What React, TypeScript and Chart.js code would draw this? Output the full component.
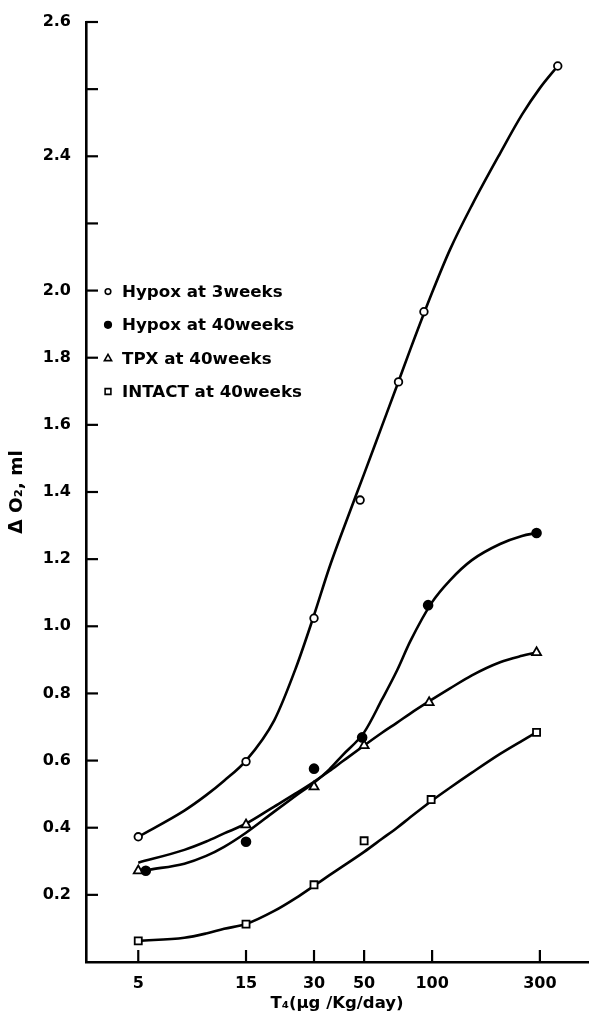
import React, { useEffect, useRef } from 'react';
import { Chart, registerables } from 'chart.js';

Chart.register(...registerables);

// ---- axis ticks ----
const X_TICKS = [5, 15, 30, 50, 100, 300];
const X_TICK_LABELS = ['5', '15', '30', '50', '100', '300'];
const Y_TICKS = [0.2, 0.4, 0.6, 0.8, 1.0, 1.2, 1.4, 1.6, 1.8, 2.0, 2.2, 2.4, 2.6, 2.8];
const Y_TICK_LABELS = ['0.2', '0.4', '0.6', '0.8', '1.0', '1.2', '1.4', '1.6', '1.8', '2.0', '', '2.4', '', '2.6'];

const X_TITLE = 'T₄(μg /Kg/day)';
const Y_TITLE = 'Δ O₂, ml';

const SERIES_LABELS = ['Hypox at 3weeks', 'Hypox at 40weeks', 'TPX at 40weeks', 'INTACT at 40weeks'];

// ---- measured points ----
const HYPOX3_X = [5, 15, 30, 48, 71, 92, 360];
const HYPOX3_Y = [0.373, 0.597, 1.024, 1.376, 1.728, 1.937, 2.669];

const HYPOX40_X = [5.4, 15, 30, 49, 96, 290];
const HYPOX40_Y = [0.272, 0.358, 0.576, 0.669, 1.063, 1.278];

const TPX40_X = [5, 15, 30, 50, 97, 290];
const TPX40_Y = [0.272, 0.409, 0.522, 0.645, 0.773, 0.922];

const INTACT40_X = [5, 15, 30, 50, 99, 290];
const INTACT40_Y = [0.063, 0.113, 0.230, 0.361, 0.484, 0.684];

// ---- hand-fitted curves ----
const HYPOX3_FIT_X = [5, 8, 10, 12, 15, 20, 25, 30, 35, 40, 50, 60, 70, 80, 100, 120, 150, 200, 250, 300, 360];
const HYPOX3_FIT_Y = [0.373, 0.451, 0.497, 0.540, 0.600, 0.720, 0.878, 1.033, 1.173, 1.281, 1.454, 1.597, 1.718, 1.824, 1.994, 2.122, 2.254, 2.409, 2.524, 2.603, 2.669];

const HYPOX40_FIT_X = [5.6, 8, 10, 12, 15, 20, 25, 30, 35, 40, 50, 60, 70, 80, 100, 120, 150, 200, 250, 290];
const HYPOX40_FIT_Y = [0.275, 0.293, 0.316, 0.343, 0.385, 0.448, 0.496, 0.534, 0.573, 0.615, 0.684, 0.782, 0.869, 0.955, 1.072, 1.137, 1.197, 1.245, 1.269, 1.278];

const TPX40_FIT_X = [5, 8, 10, 12, 15, 20, 25, 30, 35, 40, 50, 60, 70, 80, 100, 120, 150, 200, 250, 290];
const TPX40_FIT_Y = [0.296, 0.334, 0.359, 0.383, 0.412, 0.463, 0.503, 0.537, 0.568, 0.597, 0.645, 0.683, 0.713, 0.740, 0.782, 0.815, 0.854, 0.893, 0.912, 0.922];

const INTACT40_FIT_X = [5, 8, 10, 12, 15, 20, 25, 30, 35, 40, 50, 60, 70, 80, 100, 120, 150, 200, 250, 290];
const INTACT40_FIT_Y = [0.063, 0.072, 0.085, 0.099, 0.113, 0.152, 0.191, 0.227, 0.258, 0.284, 0.328, 0.367, 0.400, 0.431, 0.481, 0.519, 0.564, 0.620, 0.659, 0.684];

const FONT = '"DejaVu Sans", "Liberation Sans", sans-serif';

const MARKERS = [
  { style: 'circle', radius: 3.8, fill: '#ffffff', legendRadius: 2.8 },
  { style: 'circle', radius: 4.4, fill: '#000000', legendRadius: 3.3 },
  { style: 'triangle', radius: 5.2, fill: '#ffffff', legendRadius: 3.8 },
  { style: 'rect', radius: 5.0, fill: '#ffffff', legendRadius: 3.4 },
];

const zip = (xs: number[], ys: number[]) => xs.map((x, i) => ({ x, y: ys[i] }));

function drawMarker(ctx: CanvasRenderingContext2D, style: string, x: number, y: number, r: number) {
  ctx.beginPath();
  if (style === 'circle') {
    ctx.arc(x, y, r, 0, Math.PI * 2);
  } else if (style === 'triangle') {
    ctx.moveTo(x, y - r);
    ctx.lineTo(x + r * 0.95, y + r * 0.65);
    ctx.lineTo(x - r * 0.95, y + r * 0.65);
    ctx.closePath();
  } else {
    ctx.rect(x - r * 0.85, y - r * 0.85, r * 1.7, r * 1.7);
  }
  ctx.fill();
  ctx.stroke();
}

const insideTicks = {
  id: 'insideTicks',
  afterDraw(chart: any) {
    const { ctx, chartArea, scales } = chart;
    ctx.save();
    ctx.strokeStyle = '#000';
    ctx.lineWidth = 2.2;
    const xs = scales.x;
    const ys = scales.y;
    xs.ticks.forEach((_t: any, i: number) => {
      const px = xs.getPixelForTick(i);
      ctx.beginPath();
      ctx.moveTo(px, chartArea.bottom);
      ctx.lineTo(px, chartArea.bottom - 12);
      ctx.stroke();
    });
    ys.ticks.forEach((_t: any, i: number) => {
      const py = ys.getPixelForTick(i);
      ctx.beginPath();
      ctx.moveTo(chartArea.left, py);
      ctx.lineTo(chartArea.left + 12, py);
      ctx.stroke();
    });
    ctx.restore();
  },
};

const insideLegend = {
  id: 'insideLegend',
  afterDraw(chart: any) {
    const { ctx, chartArea, scales } = chart;
    const top = scales.y.getPixelForValue(2.0) + 1;
    ctx.save();
    ctx.font = `bold 16.7px ${FONT}`;
    ctx.textBaseline = 'middle';
    ctx.textAlign = 'left';
    SERIES_LABELS.forEach((label, i) => {
      const y = top + i * 33.3;
      const m = MARKERS[i];
      ctx.fillStyle = m.fill;
      ctx.strokeStyle = '#000';
      ctx.lineWidth = 1.6;
      drawMarker(ctx, m.style, chartArea.left + 22, y, m.legendRadius);
      ctx.fillStyle = '#000';
      ctx.fillText(label, chartArea.left + 36, y + 1);
    });
    ctx.restore();
  },
};

export default function App() {
  const ref = useRef<HTMLCanvasElement>(null);

  useEffect(() => {
    const pointSets = [
      zip(HYPOX3_X, HYPOX3_Y),
      zip(HYPOX40_X, HYPOX40_Y),
      zip(TPX40_X, TPX40_Y),
      zip(INTACT40_X, INTACT40_Y),
    ];
    const fitSets = [
      zip(HYPOX3_FIT_X, HYPOX3_FIT_Y),
      zip(HYPOX40_FIT_X, HYPOX40_FIT_Y),
      zip(TPX40_FIT_X, TPX40_FIT_Y),
      zip(INTACT40_FIT_X, INTACT40_FIT_Y),
    ];

    const markerDatasets = pointSets.map((data, i) => ({
      label: SERIES_LABELS[i],
      data,
      showLine: false,
      order: 0,
      pointStyle: MARKERS[i].style,
      pointRadius: MARKERS[i].radius,
      pointBackgroundColor: MARKERS[i].fill,
      pointBorderColor: '#000',
      pointBorderWidth: 1.8,
    }));
    const fitDatasets = fitSets.map((data, i) => ({
      label: SERIES_LABELS[i] + ' (fit)',
      data,
      showLine: true,
      order: 1,
      pointRadius: 0,
      borderColor: '#000',
      borderWidth: 2.6,
      cubicInterpolationMode: 'monotone',
      fill: false,
    }));

    const tickFont = { family: FONT, size: 16, weight: 'bold' as const };

    const chart = new Chart(ref.current as HTMLCanvasElement, {
      type: 'scatter',
      data: { datasets: [...markerDatasets, ...fitDatasets] as any },
      options: {
        responsive: false,
        animation: false,
        events: [],
        layout: { padding: { top: 22, right: 0, left: 0, bottom: 0 } },
        plugins: {
          legend: { display: false },
          tooltip: { enabled: false },
        },
        scales: {
          x: {
            type: 'logarithmic',
            min: 2.935,
            max: 490,
            afterBuildTicks: (s: any) => {
              s.ticks = X_TICKS.map((v) => ({ value: v }));
            },
            afterFit: (s: any) => {
              s.height = 55;
              s.paddingLeft = 0;
              s.paddingRight = 0;
            },
            grid: { display: false, drawTicks: false },
            border: { display: true, color: '#000', width: 2.6 },
            ticks: {
              autoSkip: false,
              maxRotation: 0,
              padding: 12,
              color: '#000',
              font: tickFont,
              callback: (_v: any, i: number) => X_TICK_LABELS[i],
            },
            title: {
              display: true,
              text: X_TITLE,
              color: '#000',
              font: { family: FONT, size: 16.5, weight: 'bold' },
              padding: { top: 0, bottom: 3 },
            },
          },
          y: {
            type: 'linear',
            min: 0,
            max: 2.8,
            afterBuildTicks: (s: any) => {
              s.ticks = Y_TICKS.map((v) => ({ value: v }));
            },
            afterFit: (s: any) => {
              s.width = 86;
              s.paddingTop = 0;
              s.paddingBottom = 0;
            },
            grid: { display: false, drawTicks: false },
            border: { display: true, color: '#000', width: 2.6 },
            ticks: {
              padding: 15,
              color: '#000',
              font: tickFont,
              callback: (_v: any, i: number) => Y_TICK_LABELS[i],
            },
            title: {
              display: true,
              text: Y_TITLE,
              color: '#000',
              font: { family: FONT, size: 18.5, weight: 'bold' },
              padding: { top: 6, bottom: 0 },
            },
          },
        },
      } as any,
      plugins: [insideTicks, insideLegend],
    });
    return () => chart.destroy();
  }, []);

  return (
    <div style={{ position: 'absolute', left: 0, top: 0, width: 595, height: 1017, background: '#fff' }}>
      <canvas ref={ref} width={595} height={1017} />
    </div>
  );
}
